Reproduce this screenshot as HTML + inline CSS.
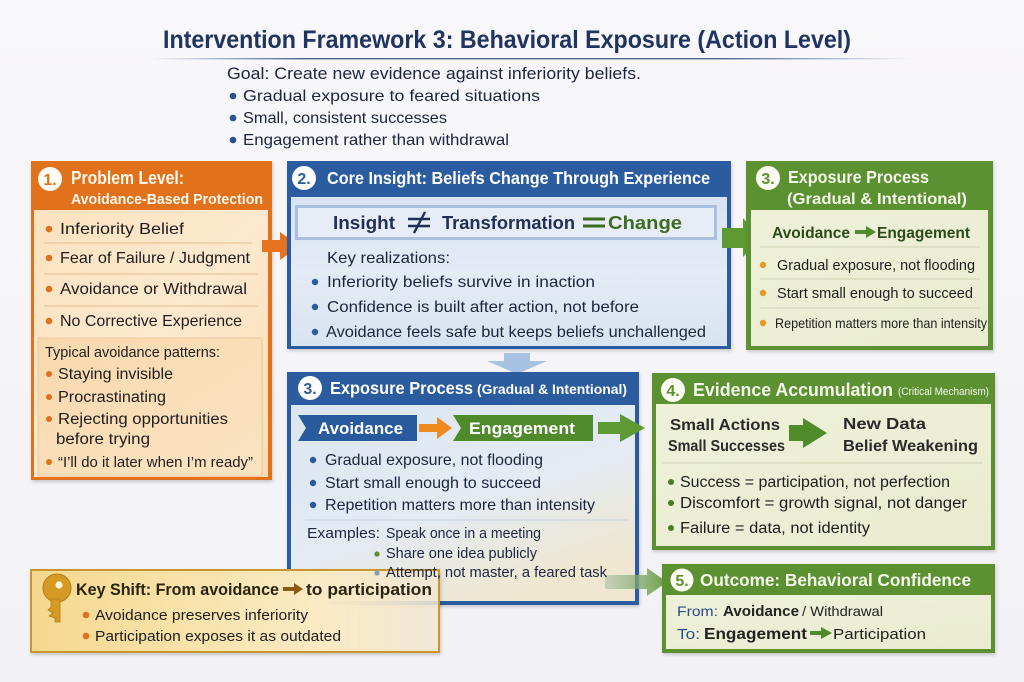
<!DOCTYPE html>
<html>
<head>
<meta charset="utf-8">
<style>
  html,body{margin:0;padding:0;background:#f5f5f8;}
  svg{display:block;}
  text{font-family:"Liberation Sans", sans-serif;}
</style>
</head>
<body>
<svg width="1024" height="682" viewBox="0 0 1024 682" xmlns="http://www.w3.org/2000/svg">
  <defs>
    <linearGradient id="bg" x1="0" y1="0" x2="0" y2="1">
      <stop offset="0" stop-color="#f8f7fa"/>
      <stop offset="1" stop-color="#f2f2f6"/>
    </linearGradient>
    <linearGradient id="uline" x1="0" y1="0" x2="1" y2="0">
      <stop offset="0" stop-color="#2b4a80" stop-opacity="0"/>
      <stop offset="0.2" stop-color="#2b4a80" stop-opacity="0.85"/>
      <stop offset="0.75" stop-color="#2b4a80" stop-opacity="0.85"/>
      <stop offset="1" stop-color="#2b4a80" stop-opacity="0"/>
    </linearGradient>
    <linearGradient id="peach" x1="0" y1="0" x2="1" y2="1">
      <stop offset="0" stop-color="#fbe2bf"/>
      <stop offset="0.5" stop-color="#fde9cf"/>
      <stop offset="1" stop-color="#f9dcb4"/>
    </linearGradient>
    <linearGradient id="peach2" x1="0" y1="0" x2="1" y2="1">
      <stop offset="0" stop-color="#f8d9ae"/>
      <stop offset="1" stop-color="#fbe3c2"/>
    </linearGradient>
    <linearGradient id="lblue" x1="0" y1="0" x2="0" y2="1">
      <stop offset="0" stop-color="#d7e3f1"/>
      <stop offset="0.5" stop-color="#e3ebf5"/>
      <stop offset="1" stop-color="#d9e4f1"/>
    </linearGradient>
    <linearGradient id="lblue2" x1="0" y1="0" x2="0.6" y2="1">
      <stop offset="0" stop-color="#dbe6f2"/>
      <stop offset="0.6" stop-color="#e4ebf3"/>
      <stop offset="1" stop-color="#efe7cf"/>
    </linearGradient>
    <linearGradient id="lgreen" x1="0" y1="0" x2="1" y2="1">
      <stop offset="0" stop-color="#eef1d9"/>
      <stop offset="1" stop-color="#e9ecd0"/>
    </linearGradient>
    <linearGradient id="keyg" x1="0" y1="0" x2="1" y2="0">
      <stop offset="0" stop-color="#f5d88f"/>
      <stop offset="0.35" stop-color="#f8e2a8"/>
      <stop offset="0.7" stop-color="#fbeac3"/>
      <stop offset="1" stop-color="#f3ead6" stop-opacity="0.85"/>
    </linearGradient>
    <linearGradient id="arr5" x1="0" y1="0" x2="1" y2="0">
      <stop offset="0" stop-color="#9fb9a0" stop-opacity="0.5"/>
      <stop offset="1" stop-color="#6e9d44"/>
    </linearGradient>
    <filter id="sh" x="-5%" y="-5%" width="110%" height="110%">
      <feDropShadow dx="1" dy="2" stdDeviation="1.5" flood-color="#000" flood-opacity="0.18"/>
    </filter>
  </defs>

  <rect width="1024" height="682" fill="url(#bg)"/>

  <!-- Title -->
  <text x="163" y="48" font-size="25" font-weight="bold" fill="#1f3461" textLength="688" lengthAdjust="spacingAndGlyphs">Intervention Framework 3: Behavioral Exposure (Action Level)</text>
  <rect x="150" y="58" width="760" height="1.4" fill="url(#uline)"/>

  <!-- Goal -->
  <text x="227" y="79" font-size="17" fill="#1c2540" textLength="414" lengthAdjust="spacingAndGlyphs">Goal: Create new evidence against inferiority beliefs.</text>
  <circle cx="233" cy="96" r="3.3" fill="#2b4f8f"/>
  <text x="243" y="101" font-size="16" fill="#1c2540" textLength="297" lengthAdjust="spacingAndGlyphs">Gradual exposure to feared situations</text>
  <circle cx="233" cy="118" r="3.3" fill="#2b4f8f"/>
  <text x="243" y="123" font-size="16" fill="#1c2540" textLength="204" lengthAdjust="spacingAndGlyphs">Small, consistent successes</text>
  <circle cx="233" cy="140" r="3.3" fill="#2b4f8f"/>
  <text x="243" y="145" font-size="16" fill="#1c2540" textLength="266" lengthAdjust="spacingAndGlyphs">Engagement rather than withdrawal</text>

  <!-- ===== Box 1 ===== -->
  <g filter="url(#sh)">
    <rect x="31" y="161" width="241" height="319" fill="#e2711d"/>
  </g>
  <rect x="34" y="210" width="234" height="267" fill="url(#peach)"/>
  <circle cx="50" cy="179" r="12" fill="#fffaf2"/>
  <text x="50" y="185" font-size="16" font-weight="bold" fill="#e2711d" text-anchor="middle">1.</text>
  <text x="71" y="184" font-size="18" font-weight="bold" fill="#fff8ec" textLength="113" lengthAdjust="spacingAndGlyphs">Problem Level:</text>
  <text x="71" y="204" font-size="15" font-weight="bold" fill="#fff8ec" textLength="192" lengthAdjust="spacingAndGlyphs">Avoidance-Based Protection</text>

  <circle cx="49" cy="229" r="3.3" fill="#e2711d"/>
  <text x="60" y="234" font-size="16" fill="#1e1e1e" textLength="124" lengthAdjust="spacingAndGlyphs">Inferiority Belief</text>
  <line x1="44" y1="243" x2="252" y2="243" stroke="#e2bc90" stroke-width="1"/>
  <circle cx="49" cy="258" r="3.3" fill="#e2711d"/>
  <text x="60" y="263" font-size="16" fill="#1e1e1e" textLength="190" lengthAdjust="spacingAndGlyphs">Fear of Failure / Judgment</text>
  <line x1="44" y1="274" x2="258" y2="274" stroke="#e2bc90" stroke-width="1"/>
  <circle cx="49" cy="289" r="3.3" fill="#e2711d"/>
  <text x="60" y="294" font-size="16" fill="#1e1e1e" textLength="187" lengthAdjust="spacingAndGlyphs">Avoidance or Withdrawal</text>
  <line x1="44" y1="306" x2="258" y2="306" stroke="#e2bc90" stroke-width="1"/>
  <circle cx="49" cy="321" r="3.3" fill="#e2711d"/>
  <text x="60" y="326" font-size="16" fill="#1e1e1e" textLength="182" lengthAdjust="spacingAndGlyphs">No Corrective Experience</text>

  <rect x="38" y="338" width="224" height="138" fill="url(#peach2)" stroke="#eec79a" stroke-width="1"/>
  <text x="45" y="357" font-size="14.5" fill="#1e1e1e" textLength="175" lengthAdjust="spacingAndGlyphs">Typical avoidance patterns:</text>
  <circle cx="49" cy="374" r="3" fill="#e2711d"/>
  <text x="58" y="379" font-size="15.5" fill="#1e1e1e" textLength="115" lengthAdjust="spacingAndGlyphs">Staying invisible</text>
  <circle cx="49" cy="397" r="3" fill="#e2711d"/>
  <text x="58" y="402" font-size="15.5" fill="#1e1e1e" textLength="108" lengthAdjust="spacingAndGlyphs">Procrastinating</text>
  <circle cx="49" cy="419" r="3" fill="#e2711d"/>
  <text x="58" y="424" font-size="15.5" fill="#1e1e1e" textLength="170" lengthAdjust="spacingAndGlyphs">Rejecting opportunities</text>
  <text x="56" y="444" font-size="15.5" fill="#1e1e1e" textLength="94" lengthAdjust="spacingAndGlyphs">before trying</text>
  <circle cx="49" cy="462" r="3" fill="#e2711d"/>
  <text x="58" y="467" font-size="14.5" fill="#1e1e1e" textLength="195" lengthAdjust="spacingAndGlyphs">“I’ll do it later when I’m ready”</text>

  <!-- arrow 1 -> 2 -->
  <polygon points="262,240 280,240 280,232 300,246 280,260 280,252 262,252" fill="#e8731e"/>

  <!-- ===== Box 2 ===== -->
  <g filter="url(#sh)">
    <rect x="287" y="161" width="444" height="188" fill="#2b5c9f"/>
  </g>
  <rect x="291" y="197" width="436" height="149" fill="url(#lblue)"/>
  <circle cx="304" cy="178" r="12" fill="#ffffff"/>
  <text x="304" y="184" font-size="16" font-weight="bold" fill="#2b5c9f" text-anchor="middle">2.</text>
  <text x="327" y="184" font-size="17.5" font-weight="bold" fill="#ffffff" textLength="383" lengthAdjust="spacingAndGlyphs">Core Insight: Beliefs Change Through Experience</text>

  <rect x="296.5" y="206.5" width="419" height="32" fill="#e6edf6" stroke="#a9c0de" stroke-width="3"/>
  <text x="333" y="229" font-size="18" font-weight="bold" fill="#1f2f55" textLength="62" lengthAdjust="spacingAndGlyphs">Insight</text>
  <line x1="408" y1="219" x2="430" y2="219" stroke="#1f2f55" stroke-width="2.6"/>
  <line x1="408" y1="226" x2="430" y2="226" stroke="#1f2f55" stroke-width="2.6"/>
  <line x1="414" y1="233" x2="425" y2="212" stroke="#1f2f55" stroke-width="2.4"/>
  <text x="442" y="229" font-size="18" font-weight="bold" fill="#1f2f55" textLength="133" lengthAdjust="spacingAndGlyphs">Transformation</text>
  <line x1="583" y1="219" x2="605" y2="219" stroke="#3d6b1f" stroke-width="3"/>
  <line x1="583" y1="226" x2="605" y2="226" stroke="#3d6b1f" stroke-width="3"/>
  <text x="608" y="229" font-size="18" font-weight="bold" fill="#3d6b1f" textLength="74" lengthAdjust="spacingAndGlyphs">Change</text>

  <text x="327" y="263" font-size="16" fill="#1c2540" textLength="123" lengthAdjust="spacingAndGlyphs">Key realizations:</text>
  <circle cx="315" cy="282" r="3.2" fill="#2b5c9f"/>
  <text x="327" y="287" font-size="16" fill="#1c2540" textLength="268" lengthAdjust="spacingAndGlyphs">Inferiority beliefs survive in inaction</text>
  <circle cx="315" cy="307" r="3.2" fill="#2b5c9f"/>
  <text x="327" y="312" font-size="16" fill="#1c2540" textLength="312" lengthAdjust="spacingAndGlyphs">Confidence is built after action, not before</text>
  <circle cx="315" cy="332" r="3.2" fill="#2b5c9f"/>
  <text x="326" y="337" font-size="16" fill="#1c2540" textLength="380" lengthAdjust="spacingAndGlyphs">Avoidance feels safe but keeps beliefs unchallenged</text>

  <!-- arrow 2 -> 3 (right) -->
  <polygon points="722,228 743,228 743,218 760,238 743,257 743,248 722,248" fill="#5d9a32"/>

  <!-- down arrow -->
  <polygon points="504,353 530,353 530,361 547,361 517,374 487,361 504,361" fill="#a8c2e2"/>

  <!-- ===== Box 3 (right, green) ===== -->
  <g filter="url(#sh)">
    <rect x="746" y="161" width="247" height="189" fill="#5b9130"/>
  </g>
  <rect x="751" y="210" width="237" height="136" fill="url(#lgreen)"/>
  <circle cx="768" cy="178" r="12" fill="#fbfbf2"/>
  <text x="768" y="184" font-size="16" font-weight="bold" fill="#5b9130" text-anchor="middle">3.</text>
  <text x="788" y="183" font-size="17.5" font-weight="bold" fill="#f4f8ea" textLength="141" lengthAdjust="spacingAndGlyphs">Exposure Process</text>
  <text x="787" y="204" font-size="16" font-weight="bold" fill="#f4f8ea" textLength="180" lengthAdjust="spacingAndGlyphs">(Gradual &amp; Intentional)</text>

  <text x="772" y="238" font-size="16" font-weight="bold" fill="#2d4a1c" textLength="78" lengthAdjust="spacingAndGlyphs">Avoidance</text>
  <polygon points="855,230 866,230 866,226 876,232 866,238 866,234 855,234" fill="#4f8a2b"/>
  <text x="877" y="238" font-size="16" font-weight="bold" fill="#2d4a1c" textLength="93" lengthAdjust="spacingAndGlyphs">Engagement</text>
  <line x1="760" y1="247" x2="980" y2="247" stroke="#cfd3b4" stroke-width="1"/>
  <circle cx="763" cy="265" r="3.2" fill="#e3982b"/>
  <text x="777" y="270" font-size="15" fill="#1e1e1e" textLength="198" lengthAdjust="spacingAndGlyphs">Gradual exposure, not flooding</text>
  <line x1="760" y1="279" x2="980" y2="279" stroke="#cfd3b4" stroke-width="1"/>
  <circle cx="763" cy="293" r="3.2" fill="#e3982b"/>
  <text x="777" y="298" font-size="15" fill="#1e1e1e" textLength="196" lengthAdjust="spacingAndGlyphs">Start small enough to succeed</text>
  <line x1="760" y1="308" x2="980" y2="308" stroke="#cfd3b4" stroke-width="1"/>
  <circle cx="763" cy="323" r="3.2" fill="#e3982b"/>
  <text x="775" y="328" font-size="14" fill="#1e1e1e" textLength="212" lengthAdjust="spacingAndGlyphs">Repetition matters more than intensity</text>

  <!-- ===== Box 3 (bottom, blue) ===== -->
  <g filter="url(#sh)">
    <rect x="287" y="372" width="352" height="233" fill="#2b5c9f"/>
  </g>
  <rect x="291" y="405" width="344" height="196" fill="url(#lblue2)"/>
  <circle cx="310" cy="388" r="12" fill="#ffffff"/>
  <text x="310" y="394" font-size="16" font-weight="bold" fill="#2b5c9f" text-anchor="middle">3.</text>
  <text x="330" y="394" font-size="17.5" font-weight="bold" fill="#ffffff" textLength="143" lengthAdjust="spacingAndGlyphs">Exposure Process</text>
  <text x="477" y="394" font-size="14" font-weight="bold" fill="#ffffff" textLength="150" lengthAdjust="spacingAndGlyphs">(Gradual &amp; Intentional)</text>

  <polygon points="298,415 417,415 417,441 298,441 306,428" fill="#2a5a9e"/>
  <text x="318" y="434" font-size="17" font-weight="bold" fill="#ffffff" textLength="85" lengthAdjust="spacingAndGlyphs">Avoidance</text>
  <polygon points="419,424 437,424 437,417 452,428 437,439 437,432 419,432" fill="#ef8a1e"/>
  <polygon points="453,415 593,415 593,441 453,441 461,428" fill="#4f8a2b"/>
  <text x="469" y="434" font-size="17" font-weight="bold" fill="#ffffff" textLength="106" lengthAdjust="spacingAndGlyphs">Engagement</text>
  <polygon points="598,422 620,422 620,414 645,428 620,442 620,434 598,434" fill="#5d9a32"/>

  <circle cx="313" cy="460" r="3.2" fill="#2a5a9e"/>
  <text x="325" y="465" font-size="16" fill="#1c2540" textLength="218" lengthAdjust="spacingAndGlyphs">Gradual exposure, not flooding</text>
  <circle cx="313" cy="483" r="3.2" fill="#2a5a9e"/>
  <text x="325" y="488" font-size="16" fill="#1c2540" textLength="216" lengthAdjust="spacingAndGlyphs">Start small enough to succeed</text>
  <circle cx="313" cy="505" r="3.2" fill="#2a5a9e"/>
  <text x="325" y="510" font-size="16" fill="#1c2540" textLength="270" lengthAdjust="spacingAndGlyphs">Repetition matters more than intensity</text>
  <line x1="305" y1="520" x2="628" y2="520" stroke="#c4d1e2" stroke-width="1"/>
  <text x="307" y="538" font-size="15" fill="#1c2540" textLength="73" lengthAdjust="spacingAndGlyphs">Examples:</text>
  <text x="386" y="538" font-size="15" fill="#1c2540" textLength="155" lengthAdjust="spacingAndGlyphs">Speak once in a meeting</text>
  <circle cx="377" cy="554" r="2.6" fill="#5d8a33"/>
  <text x="386" y="558" font-size="15" fill="#1c2540" textLength="151" lengthAdjust="spacingAndGlyphs">Share one idea publicly</text>

  <!-- arrow into box 5 -->
  <polygon points="605,575 647,575 647,568 667,582 647,596 647,589 605,589" fill="url(#arr5)"/>

  <!-- ===== Key shift box ===== -->
  <g filter="url(#sh)">
    <rect x="31" y="570" width="408" height="82" fill="url(#keyg)" stroke="#c9952e" stroke-width="2"/>
  </g>
  <circle cx="377" cy="573" r="2.6" fill="#8a9bb0"/>
  <text x="386" y="577" font-size="15" fill="#1c2540" textLength="221" lengthAdjust="spacingAndGlyphs">Attempt, not master,  a feared task</text>

  <circle cx="57" cy="588" r="14" fill="#d69a22" stroke="#b37e1a" stroke-width="1"/>
  <circle cx="59" cy="585" r="3.6" fill="#fff6dc"/>
  <path d="M51 599 L60 599 L60 622 L55 622 L55 618 L49 616 L53 613 L48 610 L51 607 Z" fill="#d69a22" stroke="#b37e1a" stroke-width="0.8"/>
  <text x="76" y="595" font-size="17" font-weight="bold" fill="#2a2410" textLength="203" lengthAdjust="spacingAndGlyphs">Key Shift: From avoidance</text>
  <polygon points="283,587 294,587 294,583 303,589 294,595 294,591 283,591" fill="#8b5a12"/>
  <text x="306" y="595" font-size="17" font-weight="bold" fill="#2a2410" textLength="126" lengthAdjust="spacingAndGlyphs">to participation</text>
  <circle cx="86" cy="615" r="3.3" fill="#e2711d"/>
  <text x="95" y="620" font-size="15" fill="#1e1e1e" textLength="213" lengthAdjust="spacingAndGlyphs">Avoidance preserves inferiority</text>
  <circle cx="86" cy="636" r="3.3" fill="#e2711d"/>
  <text x="95" y="641" font-size="15" fill="#1e1e1e" textLength="246" lengthAdjust="spacingAndGlyphs">Participation exposes it as outdated</text>

  <!-- ===== Box 4 ===== -->
  <g filter="url(#sh)">
    <rect x="652" y="373" width="343" height="177" fill="#5b9130"/>
  </g>
  <rect x="656" y="404" width="335" height="142" fill="url(#lgreen)"/>
  <circle cx="673" cy="390" r="12" fill="#fbfbf2"/>
  <text x="673" y="396" font-size="16" font-weight="bold" fill="#5b9130" text-anchor="middle">4.</text>
  <text x="693" y="396" font-size="18" font-weight="bold" fill="#f4f8ea" textLength="200" lengthAdjust="spacingAndGlyphs">Evidence Accumulation</text>
  <text x="898" y="395" font-size="11" fill="#f4f8ea" textLength="91" lengthAdjust="spacingAndGlyphs">(Critical Mechanism)</text>

  <text x="670" y="430" font-size="16" font-weight="bold" fill="#2a2a2a" textLength="110" lengthAdjust="spacingAndGlyphs">Small Actions</text>
  <text x="668" y="451" font-size="16" font-weight="bold" fill="#2a2a2a" textLength="117" lengthAdjust="spacingAndGlyphs">Small Successes</text>
  <polygon points="789,425 803,425 803,418 827,433 803,448 803,441 789,441" fill="#4f8a2b"/>
  <text x="843" y="429" font-size="16" font-weight="bold" fill="#2a2a2a" textLength="83" lengthAdjust="spacingAndGlyphs">New Data</text>
  <text x="843" y="451" font-size="16" font-weight="bold" fill="#2a2a2a" textLength="135" lengthAdjust="spacingAndGlyphs">Belief Weakening</text>
  <line x1="662" y1="463" x2="983" y2="463" stroke="#cfd3b4" stroke-width="1"/>
  <circle cx="671" cy="482" r="3" fill="#4c7a26"/>
  <text x="680" y="487" font-size="15.5" fill="#1e1e1e" textLength="270" lengthAdjust="spacingAndGlyphs">Success = participation, not perfection</text>
  <circle cx="671" cy="503" r="3" fill="#4c7a26"/>
  <text x="680" y="508" font-size="15.5" fill="#1e1e1e" textLength="287" lengthAdjust="spacingAndGlyphs">Discomfort = growth signal, not danger</text>
  <circle cx="671" cy="528" r="3" fill="#4c7a26"/>
  <text x="680" y="533" font-size="15.5" fill="#1e1e1e" textLength="190" lengthAdjust="spacingAndGlyphs">Failure = data, not identity</text>

  <!-- ===== Box 5 ===== -->
  <g filter="url(#sh)">
    <rect x="662" y="564" width="333" height="89" fill="#5b9130"/>
  </g>
  <rect x="666" y="595" width="325" height="54" fill="url(#lgreen)"/>
  <circle cx="682" cy="580" r="11.5" fill="#fbfbf2"/>
  <text x="682" y="586" font-size="16" font-weight="bold" fill="#5b9130" text-anchor="middle">5.</text>
  <text x="700" y="586" font-size="17.5" font-weight="bold" fill="#f4f8ea" textLength="271" lengthAdjust="spacingAndGlyphs">Outcome: Behavioral Confidence</text>

  <text x="677" y="616" font-size="14" fill="#2a4a8a" textLength="41" lengthAdjust="spacingAndGlyphs">From:</text>
  <text x="723" y="616" font-size="15" font-weight="bold" fill="#222" textLength="76" lengthAdjust="spacingAndGlyphs">Avoidance</text>
  <text x="802" y="616" font-size="14" fill="#222" textLength="81" lengthAdjust="spacingAndGlyphs">/ Withdrawal</text>
  <text x="677" y="639" font-size="15" fill="#2a4a8a" textLength="23" lengthAdjust="spacingAndGlyphs">To:</text>
  <text x="704" y="639" font-size="16" font-weight="bold" fill="#222" textLength="103" lengthAdjust="spacingAndGlyphs">Engagement</text>
  <polygon points="810,631 821,631 821,627 832,633 821,639 821,635 810,635" fill="#4f8a2b"/>
  <text x="833" y="639" font-size="15" fill="#222" textLength="93" lengthAdjust="spacingAndGlyphs">Participation</text>
</svg>
</body>
</html>
